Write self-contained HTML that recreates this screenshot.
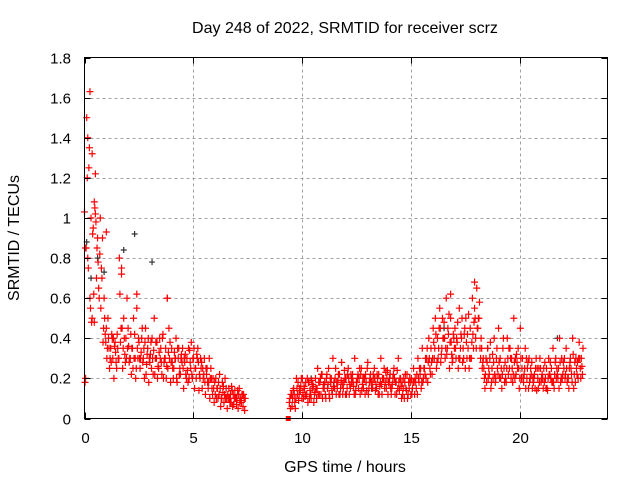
<!DOCTYPE html>
<html><head><meta charset="utf-8"><style>
body{margin:0;background:#fff}
svg{display:block;font-family:"Liberation Sans",sans-serif}
</style></head><body>
<svg id="chart" width="640" height="480" viewBox="0 0 640 480">
<text x="345" y="33" font-size="16" text-anchor="middle">Day 248 of 2022, SRMTID for receiver scrz</text>
<text x="345" y="472" font-size="16" text-anchor="middle">GPS time / hours</text>
<text transform="translate(19,238) rotate(-90)" font-size="16" text-anchor="middle">SRMTID / TECUs</text>
<g id="grid"></g>
<g id="marks"></g>
<rect x="84.5" y="57.5" width="523" height="361" fill="none" stroke="#000"/>
<g id="ticks"></g>
</svg>
<script>
const xTicks=[0,5,10,15,20];
const yTicks=[0,0.2,0.4,0.6,0.8,1,1.2,1.4,1.6,1.8];
const yTickLabels=["0","0.2","0.4","0.6","0.8","1","1.2","1.4","1.6","1.8"];
const hoursA=[0,0.1,0.2,0.3,0.4,0.5,0.6,0.7,0.8,0.9,1,1.1,1.2,1.3,1.4,1.5,1.6,1.7,1.8,1.9,2,2.1,2.2,2.3,2.4,2.5,2.6,2.7,2.8,2.9,3,3.1,3.2,3.3,3.4,3.5,3.6,3.7,3.8,3.9,4,4.1,4.2,4.3,4.4,4.5,4.6,4.7,4.8,4.9,5,5.1,5.2,5.3,5.4,5.5,5.6,5.7,5.8,5.9,6,6.1,6.2,6.3,6.4,6.5,6.6,6.7,6.8,6.9,7,7.1,7.2,7.3];
const srmtidA1=[1.03,1.5,1.25,1.0,0.95,1.02,0.9,0.82,0.7,0.6,0.45,0.4,0.35,0.3,0.38,0.42,0.8,0.72,0.5,0.4,0.45,0.3,0.35,0.42,0.55,0.38,0.33,0.3,0.45,0.35,0.28,0.4,0.5,0.3,0.25,0.35,0.42,0.3,0.6,0.3,0.35,0.25,0.4,0.3,0.22,0.35,0.28,0.3,0.2,0.38,0.3,0.25,0.35,0.2,0.15,0.3,0.22,0.18,0.25,0.2,0.12,0.15,0.22,0.1,0.08,0.15,0.1,0.12,0.06,0.14,0.1,0.15,0.08,0.12];
const srmtidA2=[0.2,0.8,0.6,0.5,0.48,0.7,0.65,0.55,0.38,0.42,0.35,0.25,0.42,0.2,0.28,0.3,0.38,0.25,0.32,0.6,0.28,0.22,0.5,0.2,0.3,0.25,0.45,0.2,0.27,0.18,0.38,0.22,0.3,0.2,0.4,0.22,0.28,0.2,0.33,0.18,0.25,0.3,0.18,0.22,0.32,0.15,0.22,0.18,0.28,0.2,0.15,0.32,0.14,0.25,0.2,0.12,0.18,0.1,0.15,0.08,0.1,0.18,0.06,0.13,0.2,0.05,0.1,0.16,0.07,0.1,0.05,0.1,0.12,0.04];
const srmtidA3=[0.18,1.2,1.35,0.48,0.62,0.98,0.78,1.0,0.9,0.5,0.3,0.35,0.28,0.4,0.33,0.35,0.62,0.45,0.4,0.3,0.36,0.42,0.25,0.3,0.35,0.3,0.4,0.35,0.22,0.4,0.32,0.3,0.22,0.38,0.33,0.28,0.2,0.35,0.25,0.38,0.28,0.33,0.2,0.35,0.3,0.25,0.32,0.24,0.34,0.22,0.35,0.2,0.28,0.3,0.25,0.18,0.25,0.3,0.2,0.15,0.2,0.1,0.15,0.18,0.12,0.1,0.15,0.08,0.12,0.1,0.14,0.08,0.12,0.1];
const srmtidA4=[0.85,0.75,0.55,0.92,1.05,0.85,0.6,0.75,0.45,0.38,0.5,0.3,0.4,0.36,0.25,0.3,0.45,0.35,0.28,0.35,0.3,0.35,0.3,0.25,0.4,0.3,0.28,0.38,0.32,0.3,0.25,0.34,0.38,0.26,0.3,0.4,0.3,0.26,0.45,0.28,0.2,0.3,0.35,0.25,0.28,0.3,0.2,0.35,0.25,0.3,0.25,0.3,0.22,0.28,0.22,0.25,0.15,0.2,0.12,0.18,0.15,0.12,0.1,0.16,0.1,0.12,0.08,0.14,0.1,0.07,0.12,0.09,0.06,0.1];
const hoursB=[];for(let i=94;i<=228;i++)hoursB.push(i/10);
const srmtidB1=[0.08,0.12,0.15,0.1,0.18,0.14,0.2,0.15,0.12,0.18,0.1,0.16,0.2,0.25,0.18,0.22,0.15,0.2,0.25,0.18,0.3,0.2,0.15,0.22,0.28,0.18,0.2,0.25,0.15,0.22,0.3,0.18,0.2,0.25,0.15,0.22,0.28,0.2,0.18,0.25,0.15,0.22,0.3,0.2,0.18,0.24,0.2,0.15,0.25,0.18,0.3,0.2,0.12,0.18,0.22,0.15,0.2,0.25,0.18,0.3,0.22,0.35,0.25,0.3,0.4,0.35,0.45,0.5,0.4,0.55,0.35,0.48,0.6,0.42,0.5,0.3,0.45,0.38,0.55,0.4,0.3,0.5,0.35,0.45,0.6,0.55,0.65,0.5,0.4,0.3,0.22,0.35,0.3,0.25,0.4,0.3,0.45,0.2,0.35,0.28,0.4,0.25,0.3,0.5,0.22,0.35,0.45,0.3,0.25,0.2,0.3,0.22,0.18,0.25,0.2,0.3,0.22,0.18,0.25,0.3,0.2,0.35,0.28,0.22,0.4,0.3,0.25,0.35,0.2,0.3,0.4,0.28,0.22,0.38,0.3];
const srmtidB2=[0.05,0.1,0.08,0.15,0.12,0.2,0.1,0.18,0.08,0.14,0.15,0.12,0.1,0.18,0.12,0.15,0.12,0.15,0.1,0.14,0.18,0.12,0.22,0.15,0.12,0.2,0.15,0.12,0.18,0.16,0.14,0.22,0.12,0.17,0.2,0.14,0.15,0.18,0.22,0.14,0.2,0.16,0.12,0.25,0.15,0.18,0.15,0.2,0.12,0.24,0.14,0.1,0.2,0.15,0.12,0.18,0.15,0.12,0.22,0.18,0.15,0.2,0.3,0.18,0.25,0.22,0.3,0.25,0.35,0.28,0.4,0.3,0.35,0.25,0.32,0.4,0.3,0.25,0.35,0.28,0.45,0.3,0.25,0.3,0.35,0.4,0.45,0.35,0.25,0.2,0.18,0.25,0.15,0.2,0.18,0.25,0.2,0.15,0.25,0.18,0.22,0.3,0.18,0.2,0.28,0.15,0.2,0.18,0.15,0.28,0.2,0.15,0.22,0.14,0.25,0.18,0.15,0.2,0.14,0.22,0.18,0.15,0.2,0.25,0.18,0.22,0.2,0.18,0.25,0.22,0.15,0.3,0.2,0.25,0.22];
const srmtidB3=[0.1,0.06,0.12,0.2,0.09,0.16,0.13,0.11,0.2,0.1,0.19,0.08,0.15,0.12,0.2,0.1,0.18,0.22,0.12,0.2,0.16,0.25,0.18,0.12,0.17,0.24,0.12,0.2,0.22,0.18,0.12,0.2,0.25,0.14,0.2,0.18,0.12,0.22,0.15,0.2,0.22,0.12,0.17,0.2,0.23,0.12,0.22,0.17,0.2,0.12,0.18,0.16,0.15,0.22,0.1,0.2,0.12,0.18,0.15,0.2,0.25,0.18,0.22,0.35,0.3,0.28,0.38,0.42,0.3,0.45,0.5,0.4,0.32,0.52,0.38,0.42,0.35,0.48,0.3,0.5,0.42,0.38,0.52,0.3,0.42,0.5,0.45,0.58,0.35,0.25,0.3,0.2,0.38,0.32,0.22,0.35,0.28,0.25,0.4,0.2,0.3,0.35,0.25,0.28,0.32,0.25,0.3,0.2,0.35,0.25,0.18,0.28,0.2,0.3,0.15,0.25,0.2,0.28,0.15,0.22,0.25,0.18,0.3,0.2,0.28,0.2,0.3,0.25,0.15,0.25,0.32,0.18,0.28,0.3,0.26];
const srmtidB4=[0.12,0.14,0.05,0.12,0.15,0.1,0.16,0.12,0.18,0.12,0.17,0.13,0.15,0.12,0.22,0.17,0.1,0.17,0.2,0.12,0.15,0.18,0.12,0.19,0.15,0.12,0.22,0.17,0.2,0.12,0.18,0.15,0.22,0.2,0.12,0.25,0.18,0.15,0.2,0.17,0.12,0.18,0.2,0.15,0.2,0.17,0.12,0.22,0.18,0.15,0.2,0.18,0.1,0.14,0.18,0.12,0.18,0.2,0.12,0.25,0.18,0.25,0.2,0.28,0.22,0.3,0.35,0.28,0.45,0.32,0.4,0.35,0.45,0.38,0.28,0.35,0.4,0.3,0.42,0.35,0.25,0.42,0.3,0.38,0.48,0.35,0.5,0.3,0.28,0.15,0.28,0.22,0.18,0.28,0.2,0.22,0.3,0.22,0.18,0.25,0.35,0.2,0.22,0.3,0.25,0.2,0.25,0.22,0.3,0.15,0.25,0.2,0.15,0.25,0.18,0.2,0.25,0.15,0.2,0.28,0.18,0.22,0.25,0.15,0.2,0.28,0.22,0.2,0.28,0.18,0.22,0.25,0.3,0.2,0.35];
const outlierHours=[0.25,0.15,0.35,0.5,0.05,0.45,1.0,1.7,2.4,3.8,17.9,16.8];
const outlierValues=[1.63,1.4,1.32,1.22,0.85,1.08,0.93,0.75,0.62,0.6,0.68,0.62];
const darkHours=[0.1,0.3,0.6,2.3,3.1,1.8,0.9,5.0,21.7,18.5,16.5,10.4];
const darkValues=[0.88,0.7,0.8,0.92,0.78,0.84,0.73,0.3,0.4,0.35,0.45,0.2];
const X0=84.5,X1=607.5,Y0=418.5,Y1=57.5;
const sx=h=>X0+h/24*(X1-X0), sy=v=>Y0-v/1.8*(Y0-Y1);
const NS="http://www.w3.org/2000/svg";
function mk(tag,parent,attrs){const e=document.createElementNS(NS,tag);for(const k in attrs)e.setAttribute(k,attrs[k]);parent.appendChild(e);return e;}
const grid=document.getElementById('grid'),ticks=document.getElementById('ticks'),marks=document.getElementById('marks');
xTicks.forEach(t=>{const x=Math.round(sx(t))+0.5;
 if(t>0){const g=mk('line',grid,{x1:x,x2:x,y1:Y1,y2:Y0,stroke:'#a0a0a0','stroke-dasharray':'3,3'});}
 const a=mk('line',ticks,{x1:x,x2:x,y1:Y0,y2:Y0-6,stroke:'#000'});
 const b=mk('line',ticks,{x1:x,x2:x,y1:Y1,y2:Y1+6,stroke:'#000'});
 const l=mk('text',ticks,{x:x,y:443,'font-size':15,'text-anchor':'middle'});l.textContent=String(t);
});
yTicks.forEach((t,i)=>{const y=Math.round(sy(t))+0.5;
 if(t>0&&t<1.8){const g=mk('line',grid,{x1:X0,x2:X1,y1:y,y2:y,stroke:'#a0a0a0','stroke-dasharray':'3,3'});}
 const a=mk('line',ticks,{x1:X0,x2:X0+6,y1:y,y2:y,stroke:'#000'});
 const b=mk('line',ticks,{x1:X1,x2:X1-6,y1:y,y2:y,stroke:'#000'});
 const l=mk('text',ticks,{x:71,y:y+5,'font-size':15,'text-anchor':'end'});l.textContent=yTickLabels[i];
});
function cross(h,v,color,s){const x=sx(h),y=sy(v);
 const p=mk('path',marks,{d:`M${x-s} ${y}H${x+s}M${x} ${y-s}V${y+s}`,stroke:color,'stroke-width':1.2,fill:'none'});
 
 }
darkHours.forEach((h,i)=>cross(h,darkValues[i],'#333',3));
hoursA.forEach((h,i)=>{cross(h,srmtidA1[i],'#f00',3.5);cross(h+0.05,srmtidA2[i],'#f00',3.5);cross(h+0.025,srmtidA3[i],'#f00',3.5);cross(h+0.075,srmtidA4[i],'#f00',3.5);});
hoursB.forEach((h,i)=>{cross(h,srmtidB1[i],'#f00',3.5);cross(h+0.05,srmtidB2[i],'#f00',3.5);cross(h+0.025,srmtidB3[i],'#f00',3.5);cross(h+0.075,srmtidB4[i],'#f00',3.5);});
outlierHours.forEach((h,i)=>cross(h,outlierValues[i],'#f00',3.5));
const sq=mk('rect',marks,{x:sx(9.35)-2.5,y:sy(0)-2.5,width:5,height:5,fill:'#f00'});


</script>
</body></html>
